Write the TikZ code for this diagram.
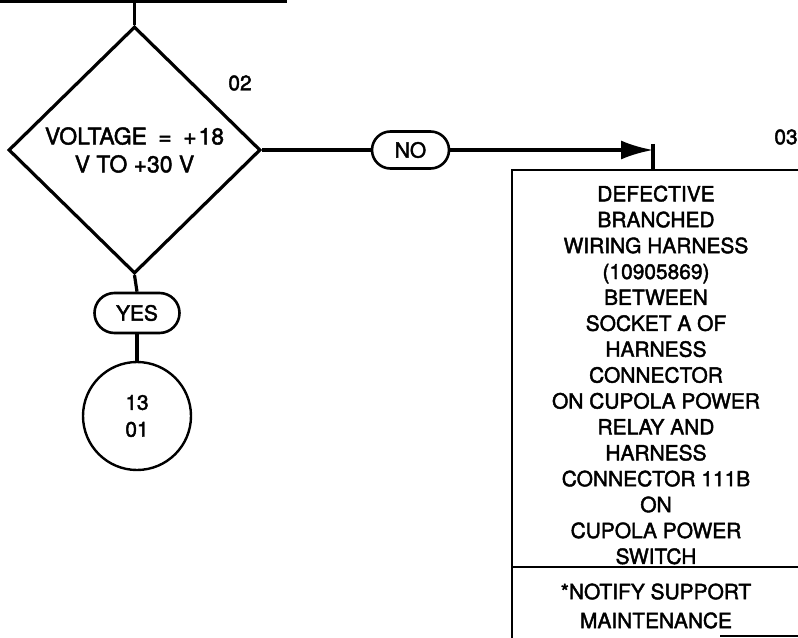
\documentclass[tikz,border=0pt]{standalone}
\usepackage{fontspec}
\setmainfont{TeX Gyre Heros}[FakeBold=2]
\usetikzlibrary{shapes.geometric,shapes.misc,arrows.meta}
\begin{document}
\begin{tikzpicture}[x=1bp,y=-1bp,
  ln/.style={line width=3.2bp},
  dectext/.style={font=\fontsize{23}{28}\selectfont},
  boxtext/.style={font=\fontsize{21}{26}\selectfont,align=center,inner sep=0pt},
  pill/.style={rounded rectangle,draw,line width=2.6bp,inner sep=0pt,font=\fontsize{21}{26}\selectfont},
  lbl/.style={font=\fontsize{21}{26}\selectfont,inner sep=0pt}]
\useasboundingbox (0,0) rectangle (798,638);
\clip (0,0) rectangle (798,638);
% top incoming line
\coordinate (topL) at (0,1);
\coordinate (topR) at (287,1);
\coordinate (topJ) at (134.5,1);
\draw[ln] (topL) -- (topR);
% decision
\node[diamond,draw,ln,minimum width=252bp,minimum height=247bp,inner sep=0pt,
      align=center,dectext] (dec) at (134.5,150)
  {VOLTAGE\enspace=\enspace+\kern2bp18\\V TO +30 V};
\draw[ln] (topJ) -- (dec.north);
\node[lbl] (n02) at (240,83) {02};
% YES branch
\node[pill,minimum width=85bp,minimum height=40bp] (yes) at (137,313) {YES};
\node[circle,draw,line width=2.4bp,minimum size=108bp,inner sep=0pt,
      align=center,font=\fontsize{21}{27}\selectfont] (conn) at (137,416) {13\\01};
\draw[ln] (dec.south) -- (yes.north);
\draw[ln] (yes.south) -- (conn.north);
% NO branch
\node[pill,minimum width=77bp,minimum height=37bp] (no) at (410.5,150) {NO};
\draw[ln] (dec.east) -- (no.west);
\coordinate (tip) at (653,150);
\coordinate (tickT) at (653,144);
\coordinate (tickB) at (653,170);
\draw[ln,-{Latex[length=32bp,width=19bp]}] (no.east) -- (tip);
\draw[ln] (tickT) -- (tickB);
\node[lbl] (n03) at (786,137) {03};
% action box
\node[boxtext] (box) at (656,375)
  {DEFECTIVE\\BRANCHED\\WIRING HARNESS\\(10905869)\\BETWEEN\\SOCKET A OF\\HARNESS\\CONNECTOR\\ON CUPOLA POWER\\RELAY AND\\HARNESS\\CONNECTOR 111B\\ON\\CUPOLA POWER\\SWITCH};
\node[boxtext,font=\fontsize{21}{29}\selectfont] (note) at (656,606)
  {*NOTIFY SUPPORT\\MAINTENANCE};
\coordinate (fTL) at (512,170);
\coordinate (fTR) at (802,170);
\coordinate (fBL) at (512,640);
\coordinate (dL) at (512,567);
\coordinate (dR) at (802,567);
\coordinate (bA) at (720,636);
\coordinate (bB) at (802,636);
\draw[line width=2.8bp] (fBL) -- (fTL) -- (fTR);
\draw[line width=2.8bp] (dL) -- (dR);
\draw[line width=1.4bp] (bA) -- (bB);
\end{tikzpicture}
\end{document}
